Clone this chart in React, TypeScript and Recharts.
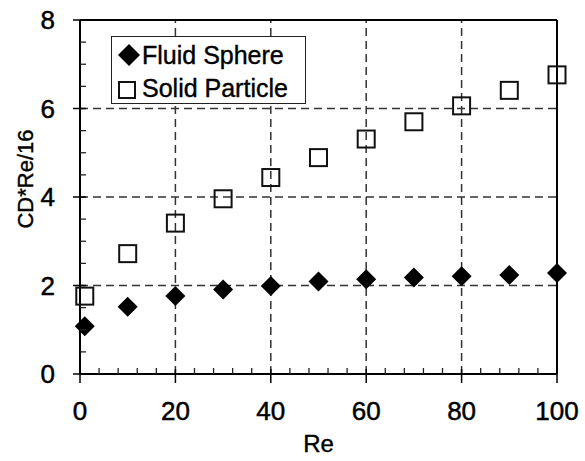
import React from 'react';
import {
  ScatterChart,
  Scatter,
  XAxis,
  YAxis,
  ReferenceLine,
  Legend,
} from 'recharts';

// Re values and the two measured series
const reValues = [1, 10, 20, 30, 40, 50, 60, 70, 80, 90, 100];
const fluidSphere = [1.08, 1.52, 1.76, 1.91, 1.99, 2.09, 2.14, 2.18, 2.21, 2.24, 2.28];
const solidParticle = [1.76, 2.72, 3.41, 3.96, 4.44, 4.89, 5.31, 5.7, 6.06, 6.41, 6.76];

const seriesNames = ['Fluid Sphere', 'Solid Particle'];

// axis ticks (major ones get labels)
const xMajor = [0, 20, 40, 60, 80, 100];
const xAll = [0, 4, 8, 12, 16, 20, 24, 28, 32, 36, 40, 44, 48, 52, 56, 60, 64, 68, 72, 76, 80, 84, 88, 92, 96, 100];
const yMajor = [0, 2, 4, 6, 8];
const yAll = [0, 0.5, 1, 1.5, 2, 2.5, 3, 3.5, 4, 4.5, 5, 5.5, 6, 6.5, 7, 7.5, 8];
const xGrid = [20, 40, 60, 80];
const yGrid = [2, 4, 6];

const FONT = '"Liberation Sans", Arial, sans-serif';

const fluidData = reValues.map((re, i) => ({ re, v: fluidSphere[i] }));
const solidData = reValues.map((re, i) => ({ re, v: solidParticle[i] }));

const Diamond = (p: any) => {
  const { cx, cy } = p;
  const r = 10;
  return <path d={`M${cx},${cy - r}L${cx + r},${cy}L${cx},${cy + r}L${cx - r},${cy}Z`} fill="#000" />;
};

const Square = (p: any) => {
  const { cx, cy } = p;
  return <rect x={cx - 8.5} y={cy - 8.5} width={17} height={17} fill="none" stroke="#111" strokeWidth={2} />;
};

const XTick = (props: any) => {
  const { x, y, payload } = props;
  const major = xMajor.includes(payload.value);
  return (
    <g>
      {major ? (
        <line x1={x} x2={x} y1={y - 5} y2={y + 9} stroke="#000" strokeWidth={1.5} />
      ) : (
        <line x1={x} x2={x} y1={y} y2={y - 6} stroke="#222" strokeWidth={1.3} />
      )}
      {major && (
        <text x={x} y={y + 46} textAnchor="middle" fontSize={26} fontFamily={FONT} fill="#000" stroke="#000" strokeWidth={0.5}>
          {payload.value}
        </text>
      )}
    </g>
  );
};

const YTick = (props: any) => {
  const { x, y, payload } = props;
  const major = yMajor.includes(payload.value);
  return (
    <g>
      {major ? (
        <line x1={x - 7} x2={x + 6} y1={y} y2={y} stroke="#000" strokeWidth={1.5} />
      ) : (
        <line x1={x} x2={x + 6} y1={y} y2={y} stroke="#222" strokeWidth={1.3} />
      )}
      {major && (
        <text x={x - 25} y={y + 9} textAnchor="end" fontSize={26} fontFamily={FONT} fill="#000" stroke="#000" strokeWidth={0.5}>
          {payload.value}
        </text>
      )}
    </g>
  );
};

const YLabel = (props: any) => {
  const vb = props.viewBox || { x: 0, y: 20, width: 80, height: 354 };
  const cx = vb.x + 25;
  const cy = vb.y + vb.height / 2 - 18;
  return (
    <text
      x={cx}
      y={cy}
      transform={`rotate(-90 ${cx} ${cy})`}
      textAnchor="middle"
      dominantBaseline="central"
      fontSize={22}
      fontFamily={FONT}
      fill="#000"
      stroke="#000"
      strokeWidth={0.4}
    >
      CD*Re/16
    </text>
  );
};

const renderLegend = () => (
  <div
    style={{
      width: 195,
      height: 68,
      boxSizing: 'border-box',
      border: '1.5px solid #222',
      background: '#fff',
      position: 'relative',
    }}
  >
    <svg width={195} height={68} style={{ position: 'absolute', left: -1.5, top: -1.5 }}>
      <path d="M18,8L29,19L18,30L7,19Z" fill="#000" />
      <rect x={8} y={46} width={16} height={16} fill="none" stroke="#111" strokeWidth={2} />
      <text x={31} y={28} fontSize={25} fontFamily={FONT} fill="#000" stroke="#000" strokeWidth={0.4}>
        {seriesNames[0]}
      </text>
      <text x={31} y={61} fontSize={25} fontFamily={FONT} fill="#000" stroke="#000" strokeWidth={0.4}>
        {seriesNames[1]}
      </text>
    </svg>
  </div>
);

export default function App() {
  return (
    <div style={{ position: 'absolute', left: 0, top: 0, width: 585, height: 461, background: '#fff' }}>
      <ScatterChart width={585} height={461} margin={{ top: 20, right: 28, bottom: 0, left: 0 }}>
        <XAxis
          type="number"
          dataKey="re"
          domain={[0, 100]}
          ticks={xAll}
          interval={0}
          tickSize={0}
          tickMargin={0}
          tick={<XTick />}
          height={87}
          axisLine={{ stroke: '#000', strokeWidth: 2 }}
          label={{ value: 'Re', position: 'insideBottom', offset: 9, fontSize: 24, fontFamily: FONT, fill: '#000', stroke: '#000', strokeWidth: 0.4 }}
        />
        <YAxis
          type="number"
          dataKey="v"
          domain={[0, 8]}
          ticks={yAll}
          interval={0}
          tickSize={0}
          tickMargin={0}
          tick={<YTick />}
          width={80}
          axisLine={{ stroke: '#000', strokeWidth: 2 }}
          label={<YLabel />}
        />
        {xGrid.map((g) => (
          <ReferenceLine key={`x${g}`} x={g} stroke="#333" strokeWidth={1.5} strokeDasharray="8 5" />
        ))}
        {yGrid.map((g) => (
          <ReferenceLine key={`y${g}`} y={g} stroke="#333" strokeWidth={1.5} strokeDasharray="8 5" />
        ))}
        <ReferenceLine x={100} stroke="#000" strokeWidth={2} />
        <ReferenceLine y={8} stroke="#000" strokeWidth={2} />
        <Legend
          layout="vertical"
          align="center"
          verticalAlign="middle"
          content={renderLegend}
          wrapperStyle={{ left: 111, top: 36, width: 195, height: 68 }}
        />
        <Scatter name={seriesNames[0]} data={fluidData} shape={<Diamond />} isAnimationActive={false} />
        <Scatter name={seriesNames[1]} data={solidData} shape={<Square />} isAnimationActive={false} />
      </ScatterChart>
    </div>
  );
}
